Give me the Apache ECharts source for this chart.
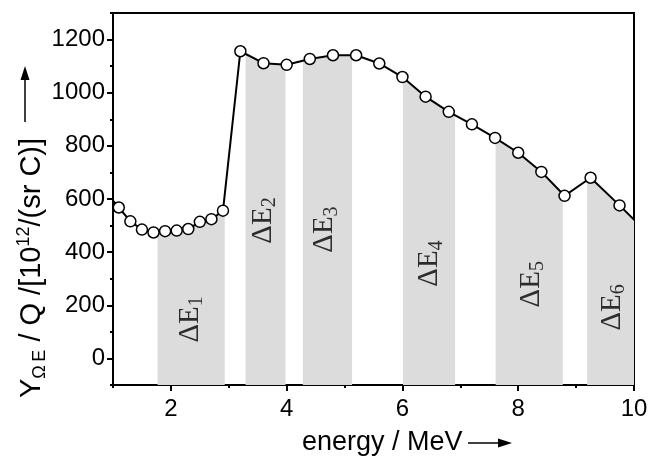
<!DOCTYPE html>
<html><head><meta charset="utf-8">
<script src="https://cdn.jsdelivr.net/npm/echarts@6/dist/echarts.min.js"></script>
<style>html,body{margin:0;padding:0;background:#fff}#c{width:654px;height:460px}</style>
</head><body><div id="c"></div>
<script>
// ---- data ----
const energy    = [0.93, 1.1, 1.3, 1.5, 1.7, 1.9, 2.1, 2.3, 2.5, 2.7, 2.9, 3.2, 3.6, 4.0, 4.4, 4.8, 5.2, 5.6, 6.0, 6.4, 6.8, 7.2, 7.6, 8.0, 8.4, 8.8, 9.25, 9.75, 10.15];
const yieldVals = [612, 568, 516, 485, 474, 479, 481, 487, 514, 524, 556, 1156, 1111, 1105, 1127, 1141, 1141, 1110, 1059, 985, 928, 881, 830, 774, 702, 612, 680, 576, 490];
const bandStart = [1.77, 3.29, 4.28, 6.01, 7.61, 9.19];
const bandEnd   = [2.93, 3.98, 5.13, 6.91, 8.77, 10.0];
const bandNames = ['1', '2', '3', '4', '5', '6'];
const labelX    = [2.33, 3.59, 4.66, 6.47, 8.22, 9.62];
const labelY    = [147, 519, 485, 357, 279, 192];
const xMajorTicks = [2, 4, 6, 8, 10];
const xMinorTicks = [1, 3, 5, 7, 9];
const yMajorTicks = [0, 200, 400, 600, 800, 1000, 1200];
const yMinorTicks = [-100, 100, 300, 500, 700, 900, 1100, 1300];

function yAt(x) {
  for (let i = 0; i < energy.length - 1; i++) {
    if (x >= energy[i] && x <= energy[i + 1]) {
      const t = (x - energy[i]) / (energy[i + 1] - energy[i]);
      return yieldVals[i] + t * (yieldVals[i + 1] - yieldVals[i]);
    }
  }
  return null;
}

const bandSeries = bandStart.map((x0, k) => {
  const x1 = bandEnd[k];
  const pts = [[x0, yAt(x0)]];
  energy.forEach((x, i) => { if (x > x0 && x < x1) pts.push([x, yieldVals[i]]); });
  pts.push([x1, yAt(x1)]);
  return {
    type: 'line', data: pts, symbol: 'none', silent: true, z: 1,
    lineStyle: { width: 0, opacity: 0 },
    areaStyle: { color: '#dcdcdc', opacity: 1, origin: 'start' }
  };
});

const chart = echarts.init(document.getElementById('c'), null, { renderer: 'canvas' });
const sans = 'Liberation Sans, Arial, sans-serif';
const serif = 'Liberation Serif, Times New Roman, serif';

const commonX = { type: 'value', min: 1, max: 10, position: 'bottom', splitLine: { show: false } };
const commonY = { type: 'value', min: -100, max: 1300, position: 'left', splitLine: { show: false } };

chart.setOption({
  animation: false,
  backgroundColor: '#fff',
  grid: { left: 113, right: 20, top: 13, bottom: 75, show: true, borderColor: '#000', borderWidth: 2, backgroundColor: 'transparent' },
  xAxis: [
    Object.assign({}, commonX, {
      axisLine: { show: true, onZero: false, lineStyle: { color: '#000', width: 2 } },
      axisTick: { show: true, customValues: xMajorTicks, length: 6, lineStyle: { color: '#000', width: 2 } },
      axisLabel: { show: true, customValues: xMajorTicks, color: '#000', fontSize: 24, fontFamily: sans, margin: 12, formatter: v => String(v) }
    }),
    Object.assign({}, commonX, {
      axisLine: { show: false, onZero: false },
      axisTick: { show: true, customValues: xMinorTicks, length: 3, lineStyle: { color: '#000', width: 2 } },
      axisLabel: { show: false }
    })
  ],
  yAxis: [
    Object.assign({}, commonY, {
      axisLine: { show: true, onZero: false, lineStyle: { color: '#000', width: 2 } },
      axisTick: { show: true, customValues: yMajorTicks, length: 6, lineStyle: { color: '#000', width: 2 } },
      axisLabel: { show: true, customValues: yMajorTicks, color: '#000', fontSize: 24, fontFamily: sans, margin: 8, formatter: v => String(v) }
    }),
    Object.assign({}, commonY, {
      axisLine: { show: false, onZero: false },
      axisTick: { show: true, customValues: yMinorTicks, length: 3, lineStyle: { color: '#000', width: 2 } },
      axisLabel: { show: false }
    })
  ],
  series: bandSeries.concat([
    {
      type: 'scatter', z: 2, silent: true, symbolSize: 0,
      data: labelX.map((x, i) => [x, labelY[i], bandNames[i]]),
      label: {
        show: true, position: 'inside', rotate: 90,
        formatter: p => '{a|ΔE}{b|' + p.value[2] + '}',
        rich: {
          a: { fontFamily: serif, fontSize: 29, color: '#000', lineHeight: 34 },
          b: { fontFamily: serif, fontSize: 20, color: '#000', lineHeight: 20, padding: [14, 0, 0, 0], verticalAlign: 'bottom' }
        }
      }
    },
    {
      type: 'line', z: 3, clip: true,
      data: energy.map((x, i) => [x, yieldVals[i]]),
      symbol: 'circle', symbolSize: 11,
      itemStyle: { color: '#fff', borderColor: '#000', borderWidth: 1.5 },
      lineStyle: { color: '#000', width: 2 }
    }
  ]),
  graphic: [
    {
      type: 'text', x: 32, y: 268, rotation: Math.PI / 2, z: 10,
      style: {
        text: '{m|Y}{s|Ω\u2009E}{m| / Q /[10}{p|12}{m|/(sr C)]}',
        align: 'center', verticalAlign: 'middle',
        rich: {
          m: { fontFamily: sans, fontSize: 29, fill: '#000', lineHeight: 34 },
          s: { fontFamily: sans, fontSize: 18, fill: '#000', lineHeight: 18, padding: [16, 0, 0, 0], verticalAlign: 'bottom' },
          p: { fontFamily: sans, fontSize: 18, fill: '#000', lineHeight: 18, padding: [0, 0, 14, 0], verticalAlign: 'top' }
        }
      }
    },
    { type: 'line', z: 10, shape: { x1: 25, y1: 122, x2: 25, y2: 80 }, style: { stroke: '#000', lineWidth: 1.5 } },
    { type: 'polygon', z: 10, shape: { points: [[25, 66], [20.5, 80], [29.5, 80]] }, style: { fill: '#000' } },
    {
      type: 'text', x: 302, y: 443, z: 10,
      style: { text: 'energy / MeV', fontFamily: sans, fontSize: 27, fill: '#000', align: 'left', verticalAlign: 'middle' }
    },
    { type: 'line', z: 10, shape: { x1: 468, y1: 443, x2: 500, y2: 443 }, style: { stroke: '#000', lineWidth: 1.5 } },
    { type: 'polygon', z: 10, shape: { points: [[512, 443], [498, 438.5], [498, 447.5]] }, style: { fill: '#000' } }
  ]
});
</script>
</body></html>
